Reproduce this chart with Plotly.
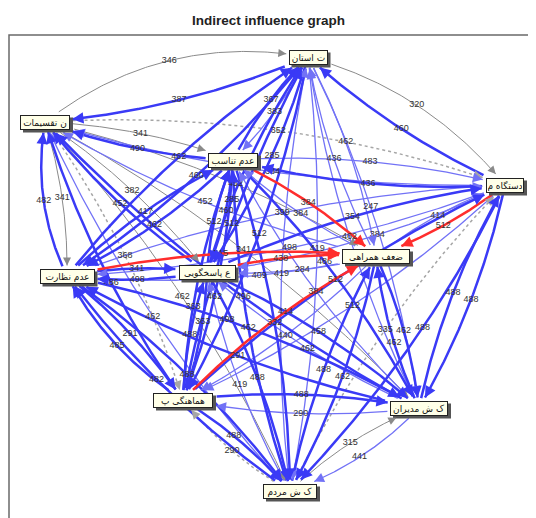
import math
import plotly.graph_objects as go

# ---------------- data ----------------
node_ids = ["A", "B", "C", "D", "E", "F", "G", "H", "I", "J"]
node_labels = ["ت استان", "ن تقسیمات", "عدم تناسب", "دستگاه م", "عدم نظارت",
               "ع پاسخگویی", "ضعف همراهی", "هماهنگی پ", "ک ش مدیران", "ک ش مردم"]

# edges grouped by target node
edge_source = ["B", "C", "D", "E", "F", "G", "H", "I", "J",
               "A", "C", "D", "E", "F", "G", "H", "I", "J",
               "A", "B", "D", "E", "F", "G", "H", "I", "J",
               "A", "B", "C", "E", "F", "G", "H", "I", "J",
               "A", "B", "C", "D", "F", "G", "H", "I", "J",
               "A", "B", "C", "D", "E", "G", "H", "I", "J",
               "A", "B", "C", "D", "E", "F", "H", "I", "J",
               "A", "B", "C", "D", "E", "F", "G", "I", "J",
               "A", "B", "C", "D", "E", "F", "G", "H", "J",
               "A", "B", "C", "D", "E", "F", "G", "H", "I"]
edge_target = (["A"] * 9 + ["B"] * 9 + ["C"] * 9 + ["D"] * 9 + ["E"] * 9 +
               ["F"] * 9 + ["G"] * 9 + ["H"] * 9 + ["I"] * 9 + ["J"] * 9)
edge_value = [346, 367, 460, 462, 285, 436, 512, 462, 419,
              387, 490, 384, 482, 452, 452, 486, 496, 462,
              383, 341, 436, 417, 512, 384, 363, 384, 462,
              320, 352, 483, 399, 354, 414, 512, 488, 335,
              460, 341, 462, 498, 498, 409, 485, 291, 482,
              285, 382, 460, 384, 341, 284, 488, 462, 419,
              462, 452, 384, 512, 515, 438, 414, 462, 488,
              512, 368, 462, 512, 291, 363, 440, 290, 290,
              247, 341, 486, 488, 498, 458, 462, 488, 315,
              419, 462, 332, 488, 488, 488, 462, 488, 441]
# intensity class: r strongest, b strong, bt moderate, g weak, d weakest
edge_kind = ["g", "b", "b", "b", "b", "bt", "b", "bt", "bt",
             "b", "b", "bt", "b", "b", "bt", "b", "b", "bt",
             "bt", "g", "b", "b", "b", "bt", "b", "bt", "b",
             "g", "d", "bt", "bt", "b", "bt", "b", "b", "d",
             "b", "g", "b", "bt", "b", "bt", "b", "b", "b",
             "b", "g", "b", "bt", "b", "bt", "b", "bt", "bt",
             "bt", "g", "r", "r", "r", "r", "r", "b", "b",
             "b", "d", "b", "bt", "b", "b", "bt", "bt", "d",
             "bt", "g", "b", "b", "b", "b", "b", "b", "g",
             "bt", "g", "b", "b", "b", "b", "b", "b", "bt"]

# ---------------- layout / style ----------------
node_pos = {"A": (308, 57), "B": (45, 122), "C": (233, 160), "D": (505, 185),
            "E": (67, 276), "F": (207, 272), "G": (376, 256), "H": (183, 400),
            "I": (419, 408), "J": (290, 491)}
node_w = {"A": 39, "B": 50, "C": 50, "D": 38, "E": 55, "F": 57, "G": 68,
          "H": 60, "I": 58, "J": 54}
node_h = 15
kind_style = {
    "b": dict(color="#3a3af6", width=2.5, dash="solid", head=0.9),
    "bt": dict(color="#7272f6", width=1.3, dash="solid", head=1.5),
    "g": dict(color="#8a8a8a", width=1.0, dash="solid", head=1.6),
    "d": dict(color="#a6a6a6", width=1.5, dash="dot", head=1.2),
    "r": dict(color="#ff2d2d", width=2.5, dash="solid", head=0.9),
}
default_curv = 0.08
special_curv = {("B", "A"): 0.22, ("A", "D"): 0.16, ("E", "B"): 0.16,
                ("H", "E"): 0.13, ("B", "D"): 0.1, ("J", "I"): 0.1,
                ("I", "J"): 0.12, ("J", "H"): 0.1}

W, H = 536, 518
OFF = 8  # page body margin of the html page
LW, LH = 16, 9  # label box size (px)


def bez(p0, c, p1, t):
    return ((1 - t) ** 2 * p0[0] + 2 * (1 - t) * t * c[0] + t * t * p1[0],
            (1 - t) ** 2 * p0[1] + 2 * (1 - t) * t * c[1] + t * t * p1[1])


def inside(p, n, pad=2):
    cx, cy = node_pos[n]
    return abs(p[0] - cx) <= node_w[n] / 2 + pad and abs(p[1] - cy) <= node_h / 2 + pad


def overlap_score(p, placed):
    sc = 0.0
    for q in placed:
        ox = LW + 1 - abs(p[0] - q[0])
        oy = LH + 1 - abs(p[1] - q[1])
        if ox > 0 and oy > 0:
            sc += ox * oy
    for n in node_ids:
        cx, cy = node_pos[n]
        ox = (node_w[n] + LW) / 2 + 5 - abs(p[0] - cx)
        oy = (node_h + LH) / 2 + 4 - abs(p[1] - cy)
        if ox > 0 and oy > 0:
            sc += 5 * ox * oy
    return sc


fig = go.Figure()
annotations = []
shapes = [dict(type="rect", xref="x", yref="y", x0=9, y0=35, x1=560, y1=560,
               line=dict(color="#6a6a6a", width=1.5), layer="below")]
lab_x, lab_y, lab_t = [], [], []
placed = []
cands = [0.5, 0.44, 0.56, 0.38, 0.62, 0.32, 0.68, 0.26, 0.74, 0.2, 0.8]

order = sorted(range(len(edge_source)), key=lambda i: ["d", "g", "bt", "b", "r"].index(edge_kind[i]))
for i in order:
    s, t_, k = edge_source[i], edge_target[i], edge_kind[i]
    p0, p1 = node_pos[s], node_pos[t_]
    dx, dy = p1[0] - p0[0], p1[1] - p0[1]
    L = math.hypot(dx, dy)
    nx, ny = dy / L, -dx / L
    cv = special_curv.get((s, t_), default_curv)
    ctrl = ((p0[0] + p1[0]) / 2 + nx * cv * L, (p0[1] + p1[1]) / 2 + ny * cv * L)
    N = 120
    pts = [bez(p0, ctrl, p1, j / N) for j in range(N + 1)]
    a = 0
    while a < N and inside(pts[a], s):
        a += 1
    b = N
    while b > 0 and inside(pts[b], t_):
        b -= 1
    seg = pts[a:b + 1]
    st = kind_style[k]
    fig.add_trace(go.Scatter(x=[p[0] for p in seg], y=[p[1] for p in seg], mode="lines",
                             line=dict(color=st["color"], width=st["width"], dash=st["dash"]),
                             hoverinfo="skip", showlegend=False))
    end = seg[-1]
    back = seg[0]
    for q in reversed(seg):
        if math.hypot(end[0] - q[0], end[1] - q[1]) >= 6:
            back = q
            break
    annotations.append(dict(x=end[0], y=end[1], ax=back[0], ay=back[1], xref="x", yref="y",
                            axref="x", ayref="y", text="", showarrow=True, arrowhead=2,
                            arrowsize=st["head"], arrowwidth=st["width"],
                            arrowcolor=st["color"], standoff=0))
    best, best_sc = None, None
    for tc in cands:
        lp = bez(p0, ctrl, p1, tc)
        sc = overlap_score(lp, placed)
        if best_sc is None or sc < best_sc - 1e-9:
            best, best_sc = lp, sc
        if sc == 0:
            break
    placed.append(best)
    lab_x.append(best[0])
    lab_y.append(best[1])
    lab_t.append(str(edge_value[i]))

fig.add_trace(go.Scatter(x=lab_x, y=lab_y, mode="text", text=lab_t,
                         textfont=dict(family="Liberation Sans", size=9, color="#333333"),
                         hoverinfo="skip", showlegend=False))

for n, lab in zip(node_ids, node_labels):
    x, y = node_pos[n]
    w = node_w[n]
    # drop shadow of the node box
    shapes.append(dict(type="rect", xref="x", yref="y", layer="above",
                       x0=x - w / 2 + 3, x1=x + w / 2 + 3,
                       y0=y - node_h / 2 + 3, y1=y + node_h / 2 + 3,
                       fillcolor="#555555", line=dict(width=0)))
    annotations.append(dict(
        x=x, y=y, xref="x", yref="y", text=lab, showarrow=False,
        width=w - 4, height=node_h - 4, borderpad=1,
        bgcolor="#ffffe8", bordercolor="#222222", borderwidth=1,
        font=dict(family="DejaVu Sans", size=9, color="#111111")))

annotations.append(dict(x=268, y=20, xref="x", yref="y", showarrow=False,
                        text="<b>Indirect influence graph</b>",
                        font=dict(family="Liberation Sans", size=13.5, color="#222222")))

fig.update_layout(
    width=W, height=H, margin=dict(l=0, r=0, t=0, b=0),
    paper_bgcolor="white", plot_bgcolor="white",
    xaxis=dict(range=[OFF, W + OFF], visible=False, fixedrange=True),
    yaxis=dict(range=[H + OFF, OFF], visible=False, fixedrange=True),
    annotations=annotations,
    shapes=shapes,
)
fig.write_html("out.html")
